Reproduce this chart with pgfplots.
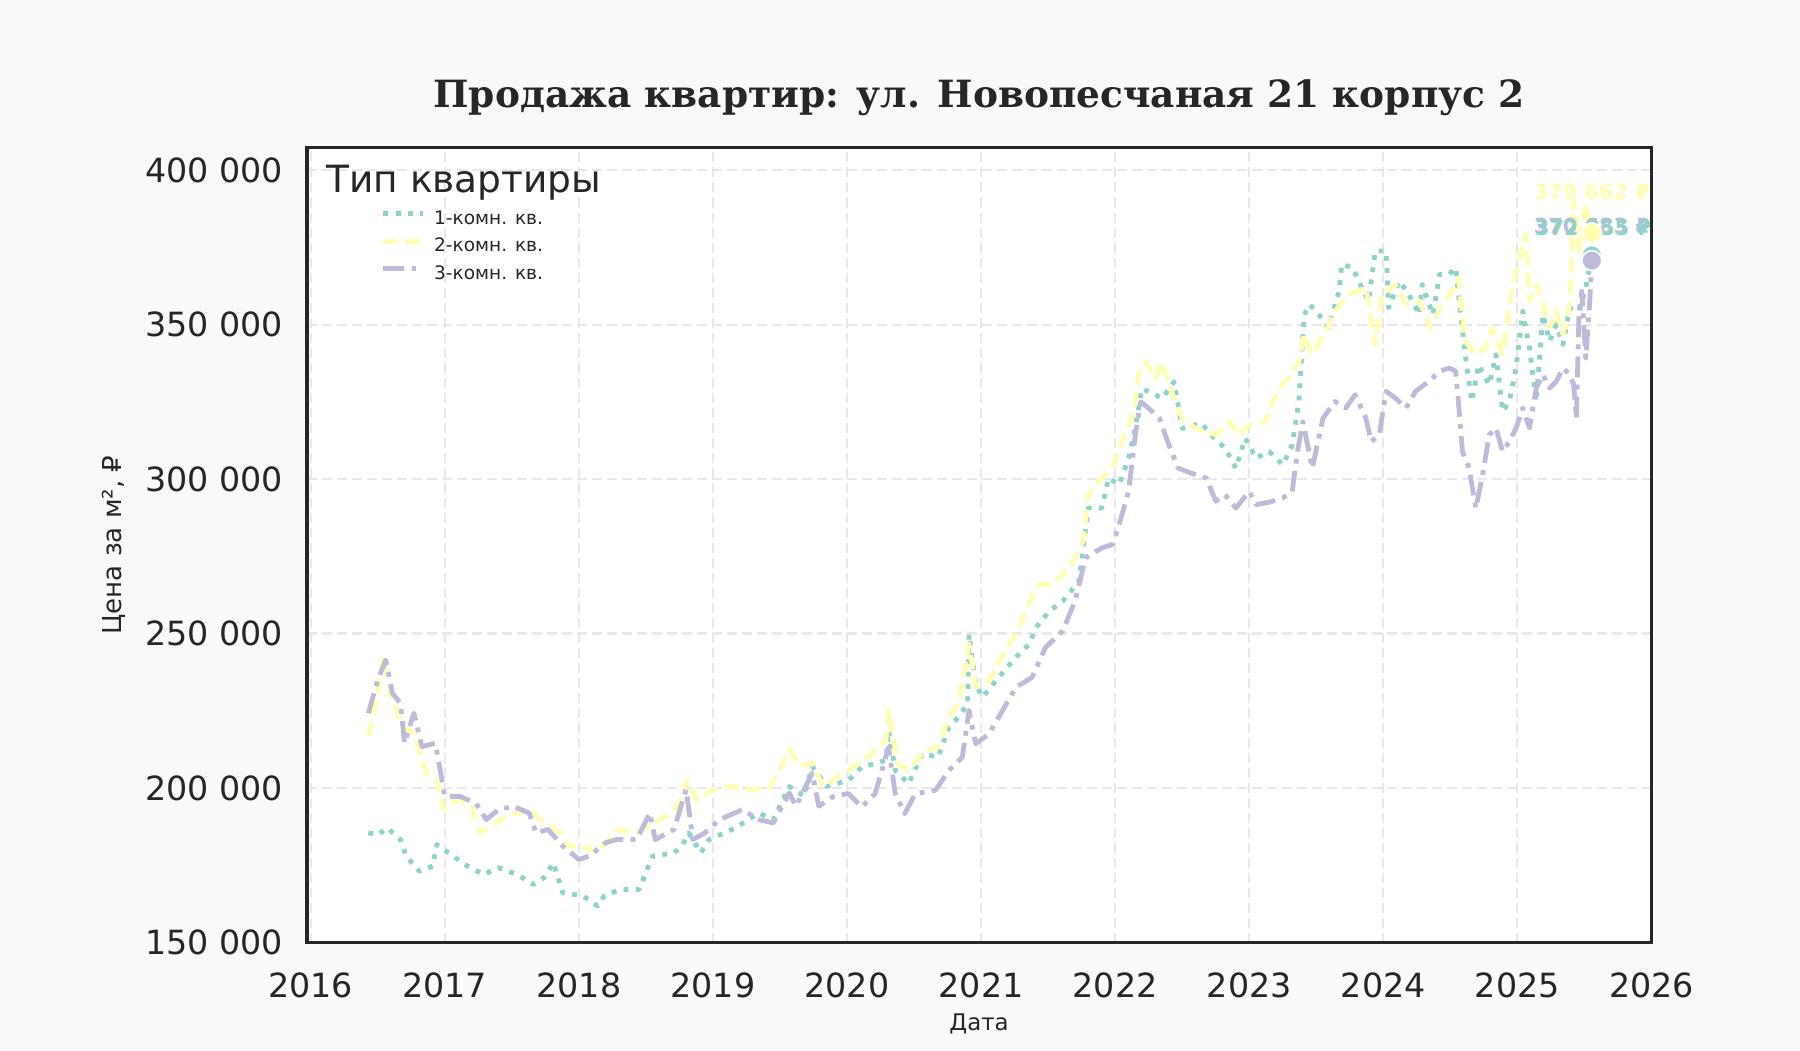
\documentclass[border=0pt]{standalone}
\usepackage{fontspec}
\setmainfont{DejaVu Sans}
\newfontfamily\titlefont{DejaVu Serif}
\usepackage{pgfplots}
\usepackage{pgfplotstable}
\pgfplotsset{compat=1.18}

\definecolor{figbg}{HTML}{F8F9FB}
\definecolor{labc}{HTML}{262626}
\definecolor{gridc}{HTML}{E8E8EA}
\definecolor{oneroom}{HTML}{8DD3C7}
\definecolor{tworoom}{HTML}{FFFFB3}
\definecolor{threeroom}{HTML}{BEBADA}

% one row per observation: year (decimal), price per m2
\pgfplotstableread{
x y
2016.43 185500
2016.50 184800
2016.57 187100
2016.67 183300
2016.71 178000
2016.81 173100
2016.91 174700
2016.94 181700
2017.06 178000
2017.17 174700
2017.29 172000
2017.40 174200
2017.54 172000
2017.66 168800
2017.74 171000
2017.81 175800
2017.84 171500
2017.88 166100
2018.03 165100
2018.14 161800
2018.19 165100
2018.31 167200
2018.45 167200
2018.50 172600
2018.55 178000
2018.71 179000
2018.77 181200
2018.82 185500
2018.91 179000
2018.97 183300
2019.17 187100
2019.34 191900
2019.45 189800
2019.57 200500
2019.68 197300
2019.74 207000
2019.85 200500
2020.01 202500
2020.11 206800
2020.21 207900
2020.29 209000
2020.31 218600
2020.36 205700
2020.46 201400
2020.56 211100
2020.68 210000
2020.76 219700
2020.83 222900
2020.90 227200
2020.91 249800
2020.96 233700
2021.01 229400
2021.11 234700
2021.26 242300
2021.36 246600
2021.41 252000
2021.51 257300
2021.61 260500
2021.73 267000
2021.80 290600
2021.90 290600
2021.95 300300
2022.03 298200
2022.10 306800
2022.15 316400
2022.20 329300
2022.25 328300
2022.35 326100
2022.44 331500
2022.50 316400
2022.64 318100
2022.74 313200
2022.82 310000
2022.90 303500
2022.97 313200
2023.05 306800
2023.15 308900
2023.25 304600
2023.32 311000
2023.37 325100
2023.41 353200
2023.45 356500
2023.52 353200
2023.59 348900
2023.67 360800
2023.69 369500
2023.77 368400
2023.84 361900
2023.89 357600
2023.94 373800
2024.02 373800
2024.04 355400
2024.12 364100
2024.19 359700
2024.27 353200
2024.29 363000
2024.37 353200
2024.42 366200
2024.49 366200
2024.54 368400
2024.58 352200
2024.61 340300
2024.66 325100
2024.71 337000
2024.79 330500
2024.84 340300
2024.89 321900
2024.94 325100
2024.99 335900
2025.04 354300
2025.09 342400
2025.14 325100
2025.19 353200
2025.24 344600
2025.29 350000
2025.34 343500
2025.39 355400
2025.46 354300
2025.51 361900
2025.555 372355
}\oneroomtable

\pgfplotstableread{
x y
2016.43 216700
2016.49 228500
2016.54 242500
2016.60 229600
2016.69 219900
2016.77 217700
2016.86 204800
2016.94 202700
2016.99 193000
2017.09 196200
2017.20 194100
2017.26 185500
2017.34 187600
2017.46 190900
2017.63 193000
2017.74 188700
2017.86 185500
2017.91 181200
2018.03 181200
2018.14 179000
2018.28 186600
2018.40 185500
2018.48 186600
2018.65 190900
2018.74 194100
2018.81 202700
2018.88 196200
2019.00 199500
2019.14 200500
2019.28 199500
2019.42 200000
2019.51 207000
2019.57 212400
2019.65 207000
2019.74 208100
2019.82 200500
2019.97 204800
2020.16 210000
2020.29 215400
2020.31 225100
2020.38 207900
2020.46 205700
2020.58 212200
2020.68 213200
2020.76 222900
2020.83 227200
2020.91 246600
2020.96 232600
2021.06 234700
2021.18 244400
2021.26 249800
2021.33 257300
2021.43 265900
2021.53 265900
2021.66 271300
2021.76 279900
2021.80 294900
2021.90 300300
2021.98 303500
2022.05 312100
2022.13 320700
2022.18 334700
2022.23 337900
2022.30 332600
2022.35 337900
2022.43 327200
2022.50 319700
2022.60 316400
2022.75 314300
2022.85 318600
2022.93 314300
2023.00 317500
2023.12 318600
2023.22 329400
2023.32 333800
2023.37 338100
2023.41 346800
2023.47 340300
2023.57 347800
2023.64 354300
2023.74 359700
2023.87 361900
2023.94 343500
2023.99 359700
2024.09 363000
2024.17 356500
2024.27 357600
2024.35 348900
2024.44 356500
2024.51 360800
2024.56 365100
2024.61 344600
2024.69 340300
2024.76 342400
2024.81 348900
2024.89 340300
2024.96 361900
2025.01 370600
2025.06 379200
2025.09 357600
2025.14 363000
2025.19 357600
2025.24 348900
2025.29 354300
2025.34 346800
2025.39 356500
2025.42 390000
2025.46 373800
2025.51 389000
2025.555 379662
}\tworoomtable

\pgfplotstableread{
x y
2016.43 224200
2016.50 234900
2016.56 241400
2016.61 230600
2016.67 227400
2016.70 214500
2016.77 224200
2016.83 213400
2016.93 214500
2016.97 204800
2017.00 197300
2017.11 197300
2017.23 195200
2017.31 189800
2017.40 193000
2017.51 194100
2017.63 191900
2017.68 185500
2017.77 186600
2017.88 181200
2018.00 176900
2018.08 178000
2018.20 182300
2018.28 183300
2018.43 183300
2018.53 191900
2018.57 183300
2018.71 186600
2018.80 199500
2018.85 183300
2018.94 185500
2019.05 189800
2019.22 193000
2019.34 189800
2019.45 188700
2019.57 198400
2019.62 194100
2019.74 204800
2019.79 194100
2019.90 197300
2020.01 198200
2020.11 193900
2020.21 198200
2020.31 213200
2020.36 198200
2020.43 191700
2020.51 198200
2020.66 199300
2020.76 205700
2020.86 210000
2020.91 225100
2020.96 214300
2021.06 217600
2021.16 225100
2021.26 232600
2021.38 235800
2021.48 245500
2021.61 250900
2021.70 260500
2021.78 274500
2021.90 277700
2021.98 278800
2022.03 285300
2022.10 296000
2022.15 314300
2022.19 325000
2022.25 322900
2022.33 319700
2022.40 311100
2022.47 303500
2022.60 301400
2022.68 300300
2022.75 292800
2022.82 294900
2022.90 290600
2023.00 296000
2023.05 291700
2023.15 292500
2023.25 293900
2023.32 295900
2023.36 308900
2023.40 318600
2023.47 303500
2023.55 319700
2023.64 325100
2023.72 323000
2023.79 327300
2023.87 319700
2023.91 312100
2023.97 314300
2024.02 328400
2024.09 326200
2024.17 323000
2024.24 328400
2024.34 331600
2024.42 334900
2024.49 335900
2024.54 334900
2024.56 325100
2024.59 308900
2024.64 303500
2024.69 290500
2024.74 301300
2024.79 314300
2024.84 316500
2024.89 308900
2024.94 312100
2024.99 316500
2025.04 323000
2025.09 316500
2025.14 329400
2025.19 333800
2025.24 329400
2025.29 331600
2025.34 335900
2025.39 333800
2025.42 330500
2025.44 319700
2025.46 354300
2025.48 360800
2025.51 339200
2025.54 357600
2025.555 370683
}\threeroomtable

\begin{document}
\begin{tikzpicture}
\fill[figbg] (0,0) rectangle (864pt,504pt);
\begin{axis}[
  at={(147.2pt,51.6pt)}, anchor=south west,
  scale only axis, width=645.5pt, height=381.6pt,
  xmin=2015.97, xmax=2026.0, ymin=150000, ymax=407300,
  xtick={2016,2017,2018,2019,2020,2021,2022,2023,2024,2025,2026},
  xticklabels={2016,2017,2018,2019,2020,2021,2022,2023,2024,2025,2026},
  ytick={150000,200000,250000,300000,350000,400000},
  yticklabels={150 000,200 000,250 000,300 000,350 000,400 000},
  scaled x ticks=false, scaled y ticks=false,
  x tick label style={yshift=-10.9pt},
  y tick label style={xshift=-7.9pt},
  tick label style={font=\fontsize{16}{19}\selectfont, text=labc},
  major tick length=0pt,
  axis background/.style={fill=white},
  axis line style={draw=labc, line width=1.8pt},
  grid=major,
  major grid style={draw=gridc, line width=1pt, dash pattern=on 4.8pt off 2.4pt},
  title={Продажа квартир: ул. Новопесчаная 21 корпус 2},
  title style={font=\fontsize{18}{21}\titlefont\bfseries, text=labc, at={(0.5,1)}, anchor=base, yshift=13pt},
  xlabel={Дата}, ylabel={Цена за м², ₽},
  every axis x label/.style={at={(axis description cs:0.5,0)}, anchor=center, yshift=-39.2pt, font=\fontsize{11}{13}\selectfont, text=labc},
  every axis y label/.style={at={(axis description cs:-0.143,0.5)}, rotate=90, anchor=center, font=\fontsize{12.5}{15}\selectfont, text=labc},
  legend style={at={(axis description cs:0,1)}, anchor=north west, xshift=35.5pt, yshift=-30.1pt,
    draw=none, fill=none, inner sep=0pt, row sep=4.7pt, column sep=4.2pt,
    font=\fontsize{8.9}{10}\selectfont, text=labc,
    nodes={inner sep=0pt, text height=6.5pt, text depth=2pt}},
  legend cell align=left,
  legend image code/.code={\draw[#1] (0pt,2.8pt) -- (19pt,2.8pt);},
]
\addplot[oneroom, line width=2.3pt, line join=round, dash pattern=on 2.3pt off 3.6pt] table[x=x, y=y] {\oneroomtable};
\addlegendentry{1-комн. кв.}
\addplot[tworoom, line width=2.3pt, line join=round, dash pattern=on 7pt off 3.5pt] table[x=x, y=y] {\tworoomtable};
\addlegendentry{2-комн. кв.}
\addplot[threeroom, line width=2.3pt, line join=round, dash pattern=on 10pt off 3.5pt on 2.3pt off 3.5pt] table[x=x, y=y] {\threeroomtable};
\addlegendentry{3-комн. кв.}

% last-value labels
\addplot[forget plot, draw=none, mark=none, nodes near coords={379 662 ₽},
  every node near coord/.append style={anchor=base, yshift=16pt, text=tworoom, font=\fontsize{10}{12}\selectfont\bfseries}]
  coordinates {(2025.555,379662)};
\addplot[forget plot, draw=none, mark=none, nodes near coords={370 683 ₽},
  every node near coord/.append style={anchor=base, yshift=13.1pt, text=threeroom, font=\fontsize{10}{12}\selectfont\bfseries}]
  coordinates {(2025.555,370683)};
\addplot[forget plot, draw=none, mark=none, nodes near coords={372 355 ₽},
  every node near coord/.append style={anchor=base, xshift=0.6pt, yshift=9.4pt, text=oneroom, font=\fontsize{10}{12}\selectfont\bfseries}]
  coordinates {(2025.555,372355)};

% last-value dots
\addplot[forget plot, only marks, mark=*, mark size=4.8pt, mark options={fill=oneroom, draw=white, line width=0.8pt}]
  coordinates {(2025.555,372355)};
\addplot[forget plot, only marks, mark=*, mark size=4.8pt, mark options={fill=tworoom, draw=white, line width=0.8pt}]
  coordinates {(2025.555,379662)};
\addplot[forget plot, only marks, mark=*, mark size=4.8pt, mark options={fill=threeroom, draw=white, line width=0.8pt}]
  coordinates {(2025.555,370683)};

\node[anchor=base west, inner sep=0pt, font=\fontsize{18}{21}\selectfont, text=labc, xshift=9.3pt, yshift=-21.7pt] at (rel axis cs:0,1) {Тип квартиры};
\end{axis}
\end{tikzpicture}
\end{document}
